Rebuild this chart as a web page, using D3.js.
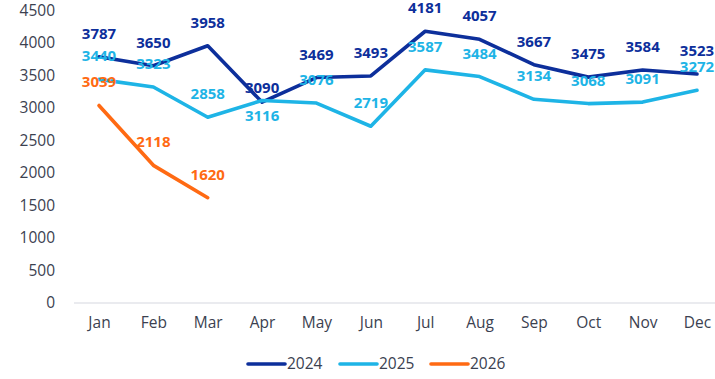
<!DOCTYPE html>
<html>
<head>
<meta charset="utf-8">
<script src="https://cdn.jsdelivr.net/npm/d3@7"></script>
<style>
  html, body { margin: 0; padding: 0; background: #fff; }
  svg { display: block; font-family: "Open Sans", sans-serif; }
</style>
</head>
<body>
<svg id="chart" width="715" height="379"></svg>
<script>
// Monthly totals per year
const months = ["Jan","Feb","Mar","Apr","May","Jun","Jul","Aug","Sep","Oct","Nov","Dec"];
const values2024 = [3787, 3650, 3958, 3090, 3469, 3493, 4181, 4057, 3667, 3475, 3584, 3523];
const values2025 = [3440, 3323, 2858, 3116, 3076, 2719, 3587, 3484, 3134, 3068, 3091, 3272];
const values2026 = [3039, 2118, 1620];
const yTicks = [0, 500, 1000, 1500, 2000, 2500, 3000, 3500, 4000, 4500];
const seriesNames = ["2024", "2025", "2026"];

const colors = { "2024": "#0d2f9b", "2025": "#1eb4e6", "2026": "#ff6a13" };
const series = [
  { name: "2024", values: values2024 },
  { name: "2025", values: values2025 },
  { name: "2026", values: values2026 }
];

// Labels sit above their point unless listed here
const labelBelow = { "2025": { "Apr": true } };
const labelNudge = { "2024": { "Apr": 9 } };

const svg = d3.select("#chart");
const x = d3.scalePoint().domain(months).range([99, 697]);
const y = d3.scaleLinear().domain([0, 4500]).range([303, 10.5]);

// Baseline
svg.append("line")
  .attr("x1", 74).attr("x2", 715)
  .attr("y1", y(0)).attr("y2", y(0))
  .attr("stroke", "#e3e5ea").attr("stroke-width", 1.5);

// Y axis labels
const yAxis = d3.axisLeft(y).tickValues(yTicks).tickFormat(d3.format("d")).tickSize(0).tickPadding(0);
const gy = svg.append("g").attr("transform", "translate(55,0)").call(yAxis);
gy.select(".domain").remove();
gy.selectAll("text")
  .attr("fill", "#3b4150")
  .style("font-size", "15.5px")
  .style("font-family", "'Open Sans', sans-serif");

// X axis labels
const xAxis = d3.axisBottom(x).tickSize(0).tickPadding(0);
const gx = svg.append("g").attr("transform", "translate(0,317)").call(xAxis);
gx.select(".domain").remove();
gx.selectAll("text")
  .attr("fill", "#3b4150")
  .style("font-size", "15.5px")
  .style("font-family", "'Open Sans', sans-serif");

// Lines
const line = d3.line()
  .x((d, i) => x(months[i]))
  .y(d => y(d));

svg.selectAll("path.series")
  .data(series)
  .join("path")
  .attr("class", "series")
  .attr("d", d => line(d.values))
  .attr("fill", "none")
  .attr("stroke", d => colors[d.name])
  .attr("stroke-width", 3.6)
  .attr("stroke-linejoin", "round")
  .attr("stroke-linecap", "round");

// Value labels
series.forEach(s => {
  svg.append("g")
    .selectAll("text")
    .data(s.values)
    .join("text")
    .attr("x", (d, i) => x(months[i]))
    .attr("y", (d, i) => {
      const m = months[i];
      if (labelBelow[s.name] && labelBelow[s.name][m]) return y(d) + 21;
      const nudge = (labelNudge[s.name] && labelNudge[s.name][m]) || 0;
      return y(d) - 18 + nudge;
    })
    .attr("text-anchor", "middle")
    .attr("fill", colors[s.name])
    .style("font-size", "15px")
    .style("font-weight", "bold")
    .text(d => d);
});

// Legend
const legend = svg.append("g").attr("transform", "translate(248,364)");
const legendX = [0, 92, 183];
seriesNames.forEach((name, i) => {
  const g = legend.append("g").attr("transform", `translate(${legendX[i]},0)`);
  g.append("line")
    .attr("x1", 0).attr("x2", 37)
    .attr("y1", 0).attr("y2", 0)
    .attr("stroke", colors[name]).attr("stroke-width", 3.6)
    .attr("stroke-linecap", "round");
  g.append("text")
    .attr("x", 39).attr("y", 0).attr("dy", "0.35em")
    .attr("fill", "#3b4150")
    .style("font-size", "15.5px")
    .text(name);
});
</script>
</body>
</html>
